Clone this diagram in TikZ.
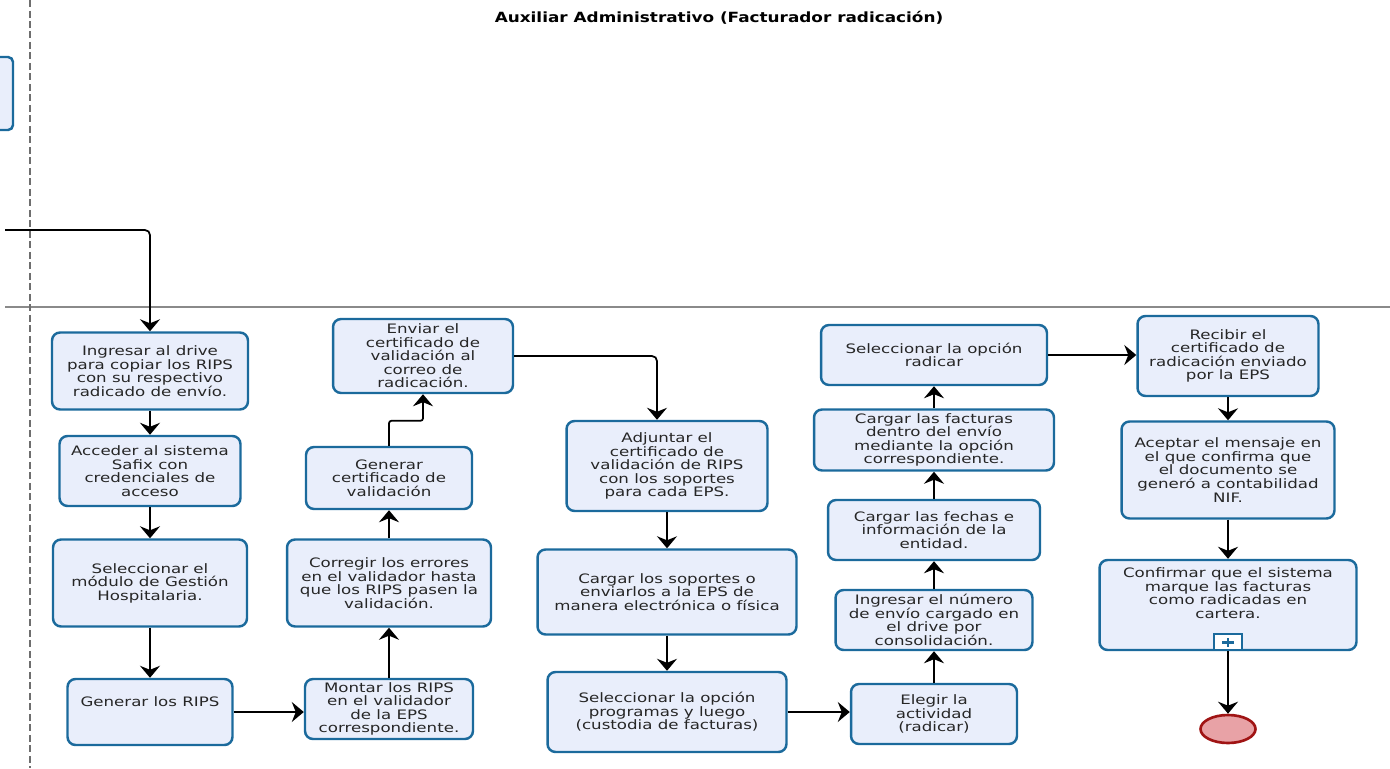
\documentclass[tikz,border=0pt]{standalone}
\usepackage{fontspec}
\setmainfont[FakeStretch=1.28]{DejaVu Sans}
\newfontfamily\titlefont[FakeStretch=1.2]{DejaVu Sans}
\usetikzlibrary{arrows.meta,shapes.geometric}

\definecolor{taskline}{HTML}{1B6A9C}
\definecolor{taskfill}{HTML}{E9EEFB}
\definecolor{laneline}{HTML}{8A8A8A}
\definecolor{endfill}{HTML}{E8A2A6}
\definecolor{endline}{HTML}{A01414}

\tikzstyle{task} = [rectangle, rounded corners=0.16cm, draw=taskline, line width=1.4pt, fill=taskfill, align=center, text=black!85, font=\fontsize{7.4}{7.7}\selectfont, inner sep=1pt]
\tikzstyle{arrow} = [line width=1pt, -{Stealth[length=0.24cm, width=0.4cm, inset=0.08cm]}]
\tikzstyle{endevent} = [ellipse, draw=endline, line width=1.5pt, fill=endfill, minimum width=1.1cm, minimum height=0.56cm]

\begin{document}
\begin{tikzpicture}[x=0.02cm, y=-0.02cm]

\useasboundingbox (0,0) rectangle (1390,768);

% lane
\node (lanetitle) at (719,18) {\titlefont\bfseries\fontsize{8}{9}\selectfont Auxiliar Administrativo (Facturador radicación)};
\draw [laneline, line width=1.1pt] (5,307) -- (1390,307);
\draw [laneline!80!black, line width=1pt, dash pattern=on 0.14cm off 0.07cm] (30,0) -- (30,768);
\draw [taskline, line width=1.4pt, fill=taskfill, rounded corners=0.1cm] (0,57) -- (13,57) -- (13,130) -- (0,130);

% first column
\node (drive) [task, minimum width=3.92cm, minimum height=1.54cm] at (150,371) {Ingresar al drive\\para copiar los RIPS\\con su respectivo\\radicado de envío.};
\node (safix) [task, minimum width=3.62cm, minimum height=1.40cm] at (150,471) {Acceder al sistema\\Safix con\\credenciales de\\acceso};
\node (modulo) [task, minimum width=3.88cm, minimum height=1.74cm] at (150,583) {Seleccionar el\\módulo de Gestión\\Hospitalaria.};
\node (rips) [task, minimum width=3.30cm, minimum height=1.32cm] at (150,712) {Generar los RIPS\\[0.15cm]};

% second column
\node (montar) [task, minimum width=3.36cm, minimum height=1.20cm] at (389,709) {Montar los RIPS\\en el validador\\de la EPS\\correspondiente.};
\node (corregir) [task, minimum width=4.08cm, minimum height=1.74cm] at (389,583) {Corregir los errores\\en el validador hasta\\que los RIPS pasen la\\validación.};
\node (generar) [task, minimum width=3.32cm, minimum height=1.24cm] at (389,478) {Generar\\certificado de\\validación};
\node (enviar) [task, minimum width=3.60cm, minimum height=1.48cm] at (423,356) {Enviar el\\certificado de\\validación al\\correo de\\radicación.};

% third column
\node (adjuntar) [task, minimum width=4.02cm, minimum height=1.80cm] at (667,466) {Adjuntar el\\certificado de\\validación de RIPS\\con los soportes\\para cada EPS.};
\node (soportes) [task, minimum width=5.18cm, minimum height=1.70cm] at (667,592) {Cargar los soportes o\\enviarlos a la EPS de\\manera electrónica o física};
\node (programas) [task, minimum width=4.78cm, minimum height=1.60cm] at (667,712) {Seleccionar la opción\\programas y luego\\(custodia de facturas)};

% fourth column
\node (elegir) [task, minimum width=3.32cm, minimum height=1.20cm] at (934,714) {Elegir la\\actividad\\(radicar)};
\node (envio) [task, minimum width=3.94cm, minimum height=1.20cm] at (934,620) {Ingresar el número\\de envío cargado en\\el drive por\\consolidación.};
\node (fechas) [task, minimum width=4.24cm, minimum height=1.20cm] at (934,530) {Cargar las fechas e\\información de la\\entidad.};
\node (facturas) [task, minimum width=4.80cm, minimum height=1.22cm] at (934,440) {Cargar las facturas\\dentro del envío\\mediante la opción\\correspondiente.};
\node (radicar) [task, minimum width=4.52cm, minimum height=1.20cm] at (934,355) {Seleccionar la opción\\radicar};

% fifth column
\node (recibir) [task, minimum width=3.62cm, minimum height=1.60cm] at (1228,356) {Recibir el\\certificado de\\radicación enviado\\por la EPS};
\node (aceptar) [task, minimum width=4.26cm, minimum height=1.94cm] at (1228,470) {Aceptar el mensaje en\\el que confirma que\\el documento se\\generó a contabilidad\\NIF.};
\node (confirmar) [task, minimum width=5.14cm, minimum height=1.80cm] at (1228,605) {Confirmar que el sistema\\marque las facturas\\como radicadas en\\cartera.\\[0.2cm]};
\node (plus) [rectangle, draw=taskline, line width=1.2pt, fill=white, minimum width=0.56cm, minimum height=0.32cm, anchor=south] at (confirmar.south) {};
\draw [taskline, line width=1.6pt] ([xshift=-0.12cm]plus.center) -- ([xshift=0.12cm]plus.center);
\draw [taskline, line width=1.6pt] ([yshift=-0.09cm]plus.center) -- ([yshift=0.09cm]plus.center);
\node (fin) [endevent] at (1228,729) {};

% connectors
\coordinate (inflow) at (5,230);
\draw [arrow, rounded corners=0.1cm] (inflow) -| (drive.north);
\draw [arrow] (drive) -- (safix);
\draw [arrow] (safix) -- (modulo);
\draw [arrow] (modulo) -- (rips);
\draw [arrow] (rips.east) -- (rips.east -| montar.west);
\draw [arrow] (montar) -- (corregir);
\draw [arrow] (corregir) -- (generar);
\draw [arrow, rounded corners=0.05cm] (generar.north) -- ++(0,-25) -| (enviar.south);
\draw [arrow, rounded corners=0.1cm] (enviar.east) -| ([xshift=-0.2cm]adjuntar.north);
\draw [arrow] (adjuntar) -- (soportes);
\draw [arrow] (soportes) -- (programas);
\draw [arrow] (programas.east) -- (programas.east -| elegir.west);
\draw [arrow] (elegir) -- (envio);
\draw [arrow] (envio) -- (fechas);
\draw [arrow] (fechas) -- (facturas);
\draw [arrow] (facturas) -- (radicar);
\draw [arrow] (radicar.east) -- (radicar.east -| recibir.west);
\draw [arrow] (recibir) -- (aceptar);
\draw [arrow] (aceptar) -- (confirmar);
\draw [arrow] (plus) -- (fin);

\end{tikzpicture}
\end{document}
